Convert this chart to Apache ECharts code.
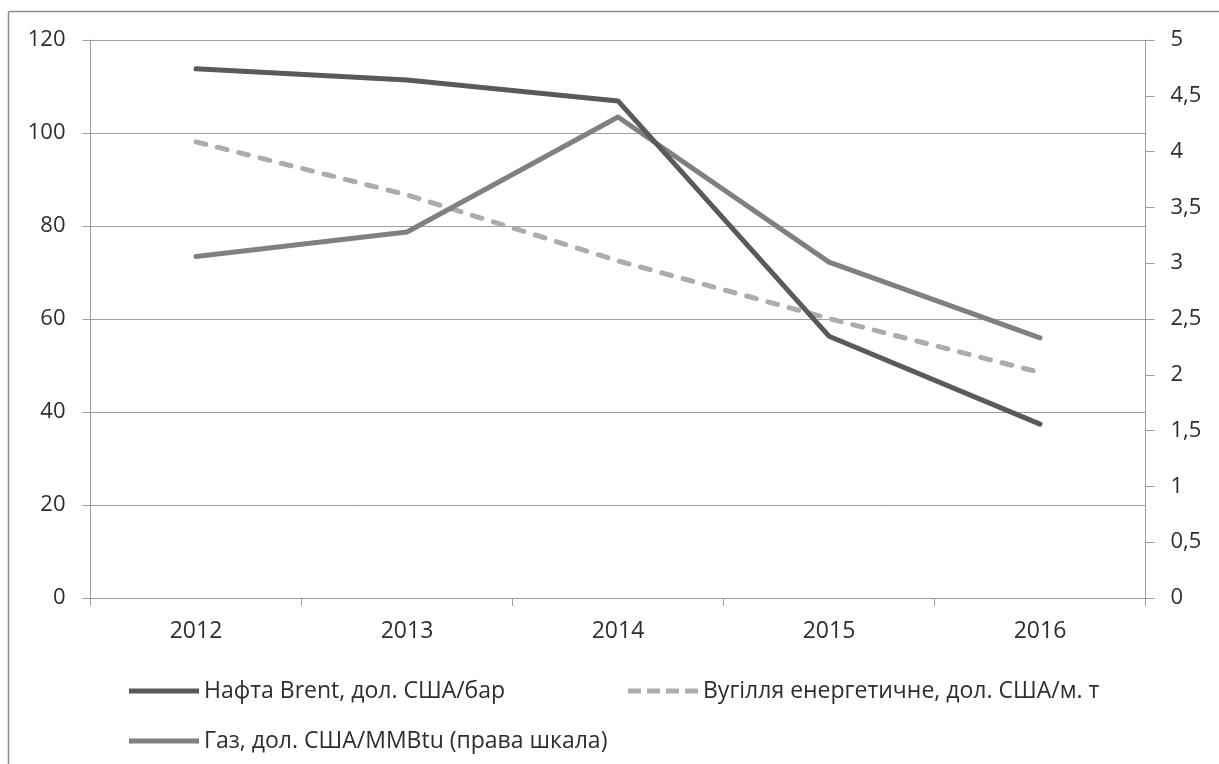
<!DOCTYPE html>
<html>
<head>
<meta charset="utf-8">
<script src="https://cdn.jsdelivr.net/npm/echarts@6/dist/echarts.min.js"></script>
<style>
  html, body { margin: 0; padding: 0; background: #fff; }
  #chart { width: 1219px; height: 764px; }
</style>
</head>
<body>
<div id="chart"></div>
<script>
// Prices of energy resources, 2012–2016
const years = ['2012', '2013', '2014', '2015', '2016'];
const brent = [113.8, 111.4, 106.9, 56.3, 37.4];   // USD per barrel (left scale)
const coal = [98.1, 86.7, 72.5, 60.1, 48.5];       // USD per metric ton (left scale)
const gas = [3.06, 3.28, 4.31, 3.01, 2.33];        // USD per MMBtu (right scale)

const nameBrent = 'Нафта Brent, дол. США/бар';
const nameCoal = 'Вугілля енергетичне, дол. США/м. т';
const nameGas = 'Газ, дол. США/MMBtu (права шкала)';

const FONT = '"Open Sans", "Noto Sans", sans-serif';
const TEXT = '#2e2e2e';
const AXIS = '#9d9d9d';

const C_BRENT = '#5a5a5a';
const C_COAL = '#acacac';
const C_GAS = '#808080';

// legend swatches: a solid bar and a dashed bar, 70 x 5
const ICON_SOLID = 'path://M0,0H70V5H0Z';
const ICON_DASH = 'path://M0,0H13V5H0Z M19,0H32V5H19Z M38,0H51V5H38Z M57,0H70V5H57Z';

const chart = echarts.init(document.getElementById('chart'), null, { renderer: 'canvas' });

const legendBase = {
  orient: 'horizontal',
  itemWidth: 70,
  itemHeight: 5,
  symbolKeepAspect: false,
  textStyle: { fontFamily: FONT, fontSize: 23, color: TEXT, lineHeight: 28 },
  selectedMode: false
};

chart.setOption({
  animation: false,
  backgroundColor: '#fff',
  graphic: [
    { type: 'line', shape: { x1: 8.5, y1: 11.5, x2: 1219, y2: 11.5 }, style: { stroke: '#8c8c8c', lineWidth: 1.5 } },
    { type: 'line', shape: { x1: 8.5, y1: 11.5, x2: 8.5, y2: 764 }, style: { stroke: '#8c8c8c', lineWidth: 1.5 } }
  ],
  grid: { left: 90.5, right: 73.5, top: 40, bottom: 166 },
  legend: [
    Object.assign({}, legendBase, {
      data: [{ name: nameBrent, icon: ICON_SOLID, itemStyle: { color: C_BRENT } }], left: 124, top: 672
    }),
    Object.assign({}, legendBase, {
      data: [{ name: nameCoal, icon: ICON_DASH, itemStyle: { color: C_COAL } }], left: 623, top: 672
    }),
    Object.assign({}, legendBase, {
      data: [{ name: nameGas, icon: ICON_SOLID, itemStyle: { color: C_GAS } }], left: 124, top: 722
    })
  ],
  xAxis: {
    type: 'category',
    data: years,
    boundaryGap: true,
    axisLine: { show: true, lineStyle: { color: AXIS, width: 1 } },
    axisTick: { show: true, length: 8, interval: 0, lineStyle: { color: AXIS } },
    axisLabel: { fontFamily: FONT, fontSize: 23, color: TEXT, margin: 22 }
  },
  yAxis: [
    {
      type: 'value', min: 0, max: 120, interval: 20, position: 'left',
      axisLine: { show: true, lineStyle: { color: AXIS, width: 1 } },
      axisTick: { show: true, length: 8, lineStyle: { color: AXIS } },
      splitLine: { show: true, lineStyle: { color: AXIS, width: 1 } },
      axisLabel: { fontFamily: FONT, fontSize: 22, color: TEXT, margin: 25 }
    },
    {
      type: 'value', min: 0, max: 5, interval: 0.5, position: 'right',
      axisLine: { show: true, lineStyle: { color: AXIS, width: 1 } },
      axisTick: { show: true, length: 9, lineStyle: { color: AXIS } },
      splitLine: { show: false },
      axisLabel: {
        fontFamily: FONT, fontSize: 22, color: TEXT, margin: 25, align: 'left',
        formatter: v => String(v).replace('.', ',')
      }
    }
  ],
  series: [
    {
      name: nameBrent, type: 'line', data: brent, yAxisIndex: 0,
      symbol: 'none', z: 4,
      lineStyle: { color: C_BRENT, width: 5, cap: 'round', join: 'round' },
      itemStyle: { color: C_BRENT }
    },
    {
      name: nameCoal, type: 'line', data: coal, yAxisIndex: 0,
      symbol: 'none', z: 3,
      lineStyle: { color: C_COAL, width: 5, type: [10, 12], cap: 'round', join: 'round' },
      itemStyle: { color: C_COAL }
    },
    {
      name: nameGas, type: 'line', data: gas, yAxisIndex: 1,
      symbol: 'none', z: 3,
      lineStyle: { color: C_GAS, width: 5, cap: 'round', join: 'round' },
      itemStyle: { color: C_GAS }
    }
  ]
});
</script>
</body>
</html>
